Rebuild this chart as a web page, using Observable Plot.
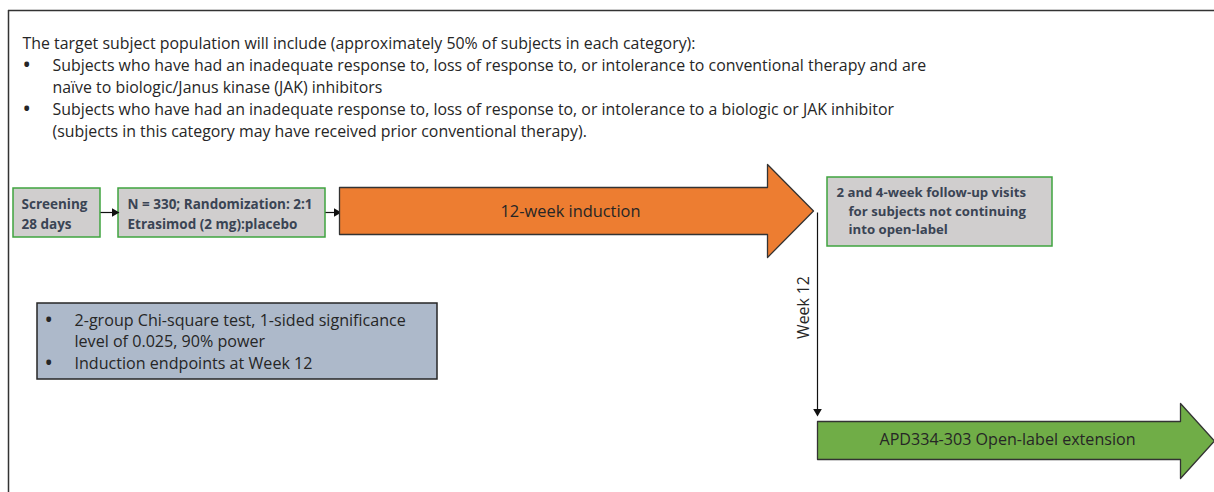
<!DOCTYPE html>
<html>
<head>
<meta charset="utf-8">
<script src="https://cdn.jsdelivr.net/npm/d3@7"></script>
<script src="https://cdn.jsdelivr.net/npm/@observablehq/plot@0.6"></script>
<style>
  html, body { margin: 0; padding: 0; background: #fff; }
  svg { display: block; }
</style>
</head>
<body>
<div id="chart"></div>
<script>
// ---- Texts ----
const introLines = [
  "The target subject population will include (approximately 50% of subjects in each category):",
  "Subjects who have had an inadequate response to, loss of response to, or intolerance to conventional therapy and are",
  "naïve to biologic/Janus kinase (JAK) inhibitors",
  "Subjects who have had an inadequate response to, loss of response to, or intolerance to a biologic or JAK inhibitor",
  "(subjects in this category may have received prior conventional therapy)."
];
const introBullet = [false, true, false, true, false];

const stepLabels = ["Screening\n28 days", "N = 330; Randomization: 2:1\nEtrasimod (2 mg):placebo"];
const followUpLines = ["2 and 4-week follow-up visits", "for subjects not continuing", "into open-label"];
const inductionLabel = "12-week induction";
const extensionLabel = "APD334-303 Open-label extension";
const weekLabel = "Week 12";
const statLines = ["2-group Chi-square test, 1-sided significance", "level of 0.025, 90% power", "Induction endpoints at Week 12"];
const statBullet = [true, false, true];

// ---- Layout (diagram coordinates, px) ----
const introY = [43, 65, 87, 109, 131];
const stepBoxes = [
  {x1: 13, x2: 100, y1: 188, y2: 237, tx: 21},
  {x1: 118, x2: 325, y1: 188, y2: 237, tx: 127}
];
const followBox = {x1: 827, x2: 1052, y1: 177, y2: 246};
const followTx = [836, 848, 848];
const followTy = [192, 211, 229];
const statBox = {x1: 37, x2: 437, y1: 303, y2: 379};
const statY = [320, 341, 363];

function arrowShape(x0, xNeck, xTip, bodyTop, bodyBot, headTop, headBot) {
  const yc = (headTop + headBot) / 2;
  return [
    {x: x0, y: bodyTop}, {x: xNeck, y: bodyTop}, {x: xNeck, y: headTop},
    {x: xTip, y: yc}, {x: xNeck, y: headBot}, {x: xNeck, y: bodyBot}, {x: x0, y: bodyBot}
  ];
}
const inductionArrow = arrowShape(339, 767, 813, 187, 234, 164, 257);
const extensionArrow = arrowShape(817, 1180, 1214, 421, 459, 403, 478);

// connector lines and their filled heads
const connectors = [
  {x1: 100, y1: 212, x2: 113, y2: 212, hx: 114, hy: 212, rot: 90},
  {x1: 325, y1: 212, x2: 335, y2: 212, hx: 336, hy: 212, rot: 90},
  {x1: 817, y1: 212, x2: 817, y2: 410, hx: 817, hy: 411, rot: 180}
];

const FONT = "Open Sans, Liberation Sans, sans-serif";
const textColor = "#262626";
const boxText = "#3a4454";

const intro = introLines.map((t, i) => ({t, y: introY[i], bullet: introBullet[i], x: i === 0 ? 22 : 52}));
const stats = statLines.map((t, i) => ({t, y: statY[i], bullet: statBullet[i]}));
const follow = followUpLines.map((t, i) => ({t, x: followTx[i], y: followTy[i]}));

const chart = Plot.plot({
  width: 1214,
  height: 492,
  margin: 0,
  x: {domain: [0, 1214], range: [0, 1214], axis: null},
  y: {domain: [0, 492], range: [0, 492], axis: null},
  style: {fontFamily: FONT, background: "#fff"},
  marks: [
    // frame
    Plot.ruleY([10], {x1: 8, x2: 1214, stroke: "#333", strokeWidth: 1.5}),
    Plot.ruleX([8], {y1: 10, y2: 492, stroke: "#333", strokeWidth: 1.5}),
    // intro text
    Plot.text(intro, {x: "x", y: "y", text: "t", textAnchor: "start", fontSize: 15.9, fill: textColor}),
    Plot.text(intro.filter(d => d.bullet), {x: 23, y: "y", text: () => "•", textAnchor: "start", fontSize: 17, fontWeight: "bold", fill: textColor}),
    // step boxes
    Plot.rect(stepBoxes, {x1: "x1", x2: "x2", y1: "y1", y2: "y2", fill: "#d0cece", stroke: "#3fa43f", strokeWidth: 1.5}),
    Plot.text(stepBoxes, {x: "tx", y: d => (d.y1 + d.y2) / 2, text: (d, i) => stepLabels[i], textAnchor: "start", fontSize: 13.5, fontWeight: "bold", fill: boxText, lineHeight: 1.45}),
    // connectors
    Plot.link(connectors, {x1: "x1", y1: "y1", x2: "x2", y2: "y2", stroke: "#111", strokeWidth: 1.2}),
    Plot.dot(connectors, {x: "hx", y: "hy", rotate: "rot", symbol: "triangle", r: 3.2, fill: "#111", stroke: "none"}),
    // induction arrow
    Plot.line(inductionArrow, {x: "x", y: "y", curve: "linear-closed", fill: "#ed7d31", stroke: "#333", strokeWidth: 1.3}),
    Plot.text([inductionLabel], {x: 570, y: 211, text: d => d, fontSize: 16.4, fill: textColor}),
    // follow-up box
    Plot.rect([followBox], {x1: "x1", x2: "x2", y1: "y1", y2: "y2", fill: "#d0cece", stroke: "#3fa43f", strokeWidth: 1.5}),
    Plot.text(follow, {x: "x", y: "y", text: "t", textAnchor: "start", fontSize: 13.2, fontWeight: "bold", fill: boxText}),
    // week 12 label
    Plot.text([weekLabel], {x: 803, y: 307, text: d => d, rotate: -90, fontSize: 15.8, fill: textColor}),
    // extension arrow
    Plot.line(extensionArrow, {x: "x", y: "y", curve: "linear-closed", fill: "#70ad47", stroke: "#333", strokeWidth: 1.3}),
    Plot.text([extensionLabel], {x: 1007, y: 439, text: d => d, fontSize: 16.1, fill: textColor}),
    // statistics box
    Plot.rect([statBox], {x1: "x1", x2: "x2", y1: "y1", y2: "y2", fill: "#adb9ca", stroke: "#262626", strokeWidth: 1.5}),
    Plot.text(stats, {x: 74, y: "y", text: "t", textAnchor: "start", fontSize: 16.1, fill: textColor}),
    Plot.text(stats.filter(d => d.bullet), {x: 45, y: "y", text: () => "•", textAnchor: "start", fontSize: 17, fontWeight: "bold", fill: textColor})
  ]
});
document.getElementById("chart").appendChild(chart);
</script>
</body>
</html>
